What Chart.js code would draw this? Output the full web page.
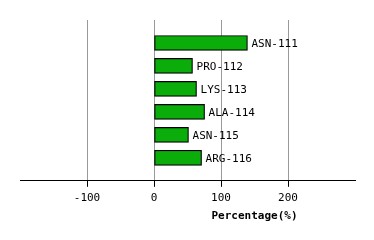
<!DOCTYPE html>
<html>
<head>
<meta charset="utf-8">
<script src="https://cdn.jsdelivr.net/npm/chart.js@4/dist/chart.umd.min.js"></script>
<style>
  html, body { margin: 0; padding: 0; background: #fff; }
  #wrap { width: 374px; height: 240px; }
</style>
</head>
<body>
<div id="wrap"><canvas id="chart"></canvas></div>
<script>
// residues + percentage values (blank slots top/bottom for spacing)
var residui = ["", "ASN-111", "PRO-112", "LYS-113", "ALA-114", "ASN-115", "ARG-116", ""];
var percentuali = [null, 139.5, 57.5, 63.5, 75.5, 51.5, 71, null];
var tickValori = [-100, 0, 100, 200];
var titoloAsse = "Percentage(%)";

var fontMono = "'DejaVu Sans Mono', monospace";

// scrivo il nome del residuo a destra della barra
var etichettePlugin = {
  id: 'etichette',
  afterDatasetsDraw: function (chart) {
    var ctx = chart.ctx;
    var meta = chart.getDatasetMeta(0);
    ctx.save();
    ctx.font = "11px " + fontMono;
    ctx.fillStyle = '#000';
    ctx.textBaseline = 'middle';
    ctx.textAlign = 'left';
    meta.data.forEach(function (bar, i) {
      if (percentuali[i] == null) return;
      ctx.fillText(residui[i], bar.x + 4, bar.y + 1);
    });
    // titolo asse x
    var xs = chart.scales.x;
    ctx.font = "bold 11px " + fontMono;
    ctx.textAlign = 'center';
    ctx.fillText(titoloAsse, xs.getPixelForValue(150), xs.bottom + 6);
    ctx.restore();
  }
};

var chart = new Chart(document.getElementById('chart'), {
  type: 'bar',
  data: {
    labels: residui,
    datasets: [{
      data: percentuali,
      backgroundColor: '#0aad0a',
      borderColor: '#000',
      borderWidth: 1.2,
      borderSkipped: false,
      barThickness: 15
    }]
  },
  options: {
    indexAxis: 'y',
    responsive: true,
    maintainAspectRatio: false,
    animation: false,
    layout: { padding: { left: 20, right: 19, top: 20, bottom: 30 } },
    plugins: { legend: { display: false }, tooltip: { enabled: false } },
    scales: {
      x: {
        min: -200,
        max: 300,
        afterBuildTicks: function (axis) {
          axis.ticks = [-200].concat(tickValori, [300]).map(function (v) { return { value: v }; });
        },
        ticks: {
          padding: 5,
          color: '#000',
          font: { family: fontMono, size: 11 },
          callback: function (v) { return tickValori.indexOf(v) >= 0 ? v : ''; }
        },
        grid: {
          color: function (c) { return c.tick && tickValori.indexOf(c.tick.value) >= 0 ? '#999' : 'rgba(0,0,0,0)'; },
          tickColor: function (c) { return c.tick && tickValori.indexOf(c.tick.value) >= 0 ? '#000' : 'rgba(0,0,0,0)'; },
          tickLength: 6,
          lineWidth: 1
        },
        border: { display: true, color: '#000', width: 1 }
      },
      y: {
        offset: false,
        afterFit: function (axis) { axis.width = 0; },
        ticks: { display: false },
        grid: { display: false },
        border: { display: false }
      }
    }
  },
  plugins: [etichettePlugin]
});
</script>
</body>
</html>
